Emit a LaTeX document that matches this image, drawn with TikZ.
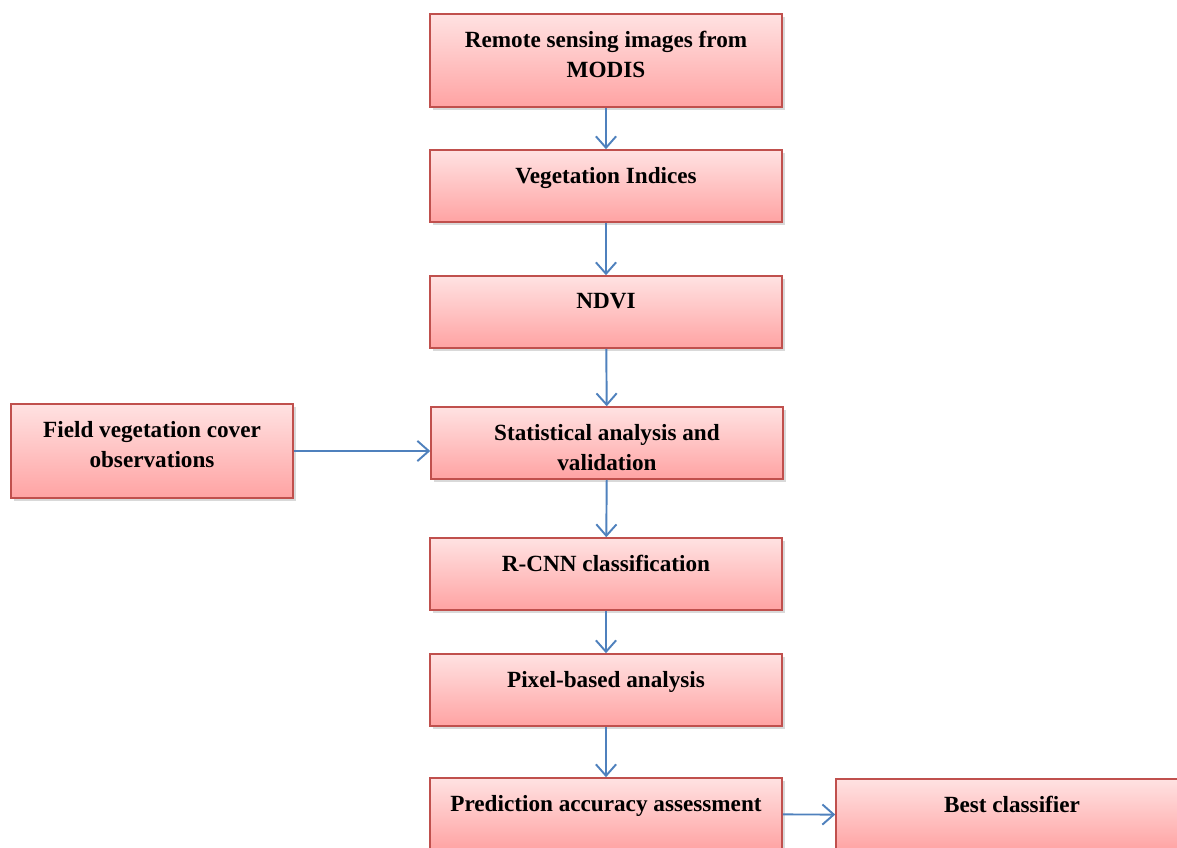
\documentclass[tikz,border=0pt]{standalone}
\usepackage{fontspec}
\setmainfont{Liberation Serif}
\usetikzlibrary{positioning,arrows.meta,shadows}
\definecolor{boxline}{RGB}{192,80,77}
\definecolor{boxtop}{RGB}{255,226,226}
\definecolor{boxbottom}{RGB}{255,163,163}
\definecolor{arrowblue}{RGB}{79,129,189}

\begin{document}
\begin{tikzpicture}[x=0.02cm, y=-0.02cm, >={Straight Barb[length=6.5pt,width=11.5pt]}]
\tikzstyle{flowbox} = [draw=boxline, line width=0.9pt, rectangle, top color=boxtop, bottom color=boxbottom, minimum width=7.04cm, minimum height=1.44cm, drop shadow={opacity=0.3, shadow xshift=1.5pt, shadow yshift=-1.8pt}]
\tikzstyle{boxtext} = [inner sep=0pt, align=center, font=\bfseries\fontsize{13.2}{17}\selectfont]
\tikzstyle{flow} = [->, draw=arrowblue, line width=1.1pt]

\useasboundingbox (0,0) rectangle (1177,848);

    % the boxes of the main chain, top to bottom
    \node [flowbox, minimum height=1.86cm] (remote) at (606,60.5) {};
    \node [boxtext, below=10pt of remote.north] (remotetext) {Remote sensing images from\\MODIS};
    \node [flowbox] (indices) at (606,186) {};
    \node [boxtext, below=10pt of indices.north] (indicestext) {Vegetation Indices};
    \node [flowbox] (ndvi) at (606,312) {};
    \node [boxtext, below=10pt of ndvi.north] (ndvitext) {NDVI};
    \node [flowbox] (stats) at (607,443) {};
    \node [boxtext, below=10pt of stats.north] (statstext) {Statistical analysis and\\validation};
    \node [flowbox] (rcnn) at (606,574) {};
    \node [boxtext, below=10pt of rcnn.north] (rcnntext) {R-CNN classification};
    \node [flowbox] (pixel) at (606,690) {};
    \node [boxtext, below=10pt of pixel.north] (pixeltext) {Pixel-based analysis};
    \node [flowbox] (accuracy) at (606,814) {};
    \node [boxtext, below=10pt of accuracy.north] (accuracytext) {Prediction accuracy assessment};

    % side boxes
    \node [flowbox, minimum width=5.64cm, minimum height=1.88cm] (field) at (152,451) {};
    \node [boxtext, below=10pt of field.north] (fieldtext) {Field vegetation cover\\observations};
    \node [flowbox] (best) at (1012,815) {};
    \node [boxtext, below=10pt of best.north] (besttext) {Best classifier};

    % connectors
    \draw [flow] (remote) -- (indices);
    \draw [flow] (indices) -- (ndvi);
    \draw [flow] (ndvi) -- (stats);
    \draw [flow] (stats) -- (rcnn);
    \draw [flow] (rcnn) -- (pixel);
    \draw [flow] (pixel) -- (accuracy);
    \draw [flow] (field.east) -- (field.east -| stats.west);
    \draw [flow] (accuracy) -- (best);

\end{tikzpicture}
\end{document}
